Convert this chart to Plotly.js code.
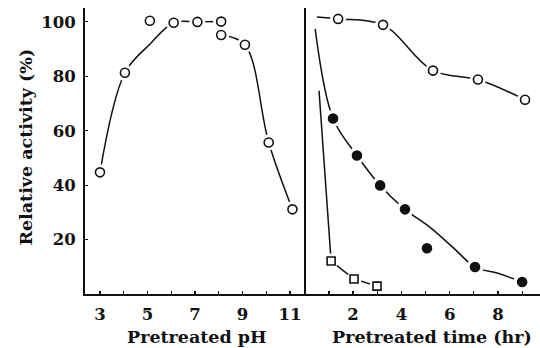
<!DOCTYPE html>
<html>
<head>
<meta charset="utf-8">
<script src="https://cdn.plot.ly/plotly-3.0.1.min.js"></script>
<style>html,body{margin:0;padding:0;background:#fff;}#chart{width:540px;height:348px;}</style>
</head>
<body>
<div id="chart"></div>
<script>
// ---- Left panel: pH stability (measured points) ----
const phValues   = [3.0, 4.05, 5.1, 6.1, 7.1, 8.1, 8.1, 9.1, 10.1, 11.1];
const phActivity = [44.7, 81.3, 100.4, 99.7, 100, 100.1, 95.2, 91.6, 55.7, 31.1];
// hand-drawn curves
const phRiseX = [3.0, 4.05, 5.1, 6.1, 7.1, 8.1];
const phRiseY = [44.7, 81.3, 91.8, 99.7, 100, 100.1];
const phFallX = [8.1, 9.1, 10.1, 11.1];
const phFallY = [95.2, 91.6, 55.7, 31.1];

// ---- Right panel: time course ----
const timeOpen = [1.38, 3.24, 5.31, 7.17, 9.12];
const actOpen  = [101.1, 98.9, 82.1, 78.8, 71.4];
const curveOpenX = [0.5, 1.38, 3.24, 5.31, 7.17, 9.12];
const curveOpenY = [101.8, 101.1, 98.9, 82.1, 78.8, 71.4];

const timeFilled = [1.17, 2.16, 3.12, 4.15, 5.06, 7.05, 9.0];
const actFilled  = [64.5, 50.9, 39.9, 31.1, 16.8, 9.9, 4.4];
const curveFilledX = [0.43, 1.17, 2.16, 3.12, 4.15, 5.2, 6.2, 7.05, 8.0, 9.0];
const curveFilledY = [97.4, 64.5, 50.9, 39.9, 31.1, 24.4, 16.6, 9.9, 7.6, 4.4];

const timeSquare = [1.09, 2.04, 2.99];
const actSquare  = [12.1, 5.5, 2.9];
const curveSquareX = [0.59, 1.09, 2.04, 2.99];
const curveSquareY = [74.7, 12.1, 5.5, 2.9];

const phTickVals = [3, 5, 7, 9, 11];
const timeTickVals = [2, 4, 6, 8];
const yTickVals = [20, 40, 60, 80, 100];

const FONT = 'DejaVu Serif';
const lineStyle = {color: '#111', width: 1.5, shape: 'spline', smoothing: 1};

function curve(x, y, xa, ya, shape) {
  const ln = Object.assign({}, lineStyle);
  if (shape) ln.shape = shape;
  return {x: x, y: y, xaxis: xa, yaxis: ya, mode: 'lines', line: ln, showlegend: false, hoverinfo: 'skip'};
}
function halo(x, y, xa, ya, sz) {
  return {x: x, y: y, xaxis: xa, yaxis: ya, mode: 'markers', showlegend: false, hoverinfo: 'skip',
    marker: {symbol: 'circle', size: sz, color: '#fff', line: {width: 0}}};
}
function pts(x, y, xa, ya, symbol, size, fill) {
  return {x: x, y: y, xaxis: xa, yaxis: ya, mode: 'markers', showlegend: false,
    marker: {symbol: symbol, size: size, color: fill, line: {color: '#111', width: 1.6}}};
}

const data = [
  curve(phRiseX, phRiseY, 'x', 'y'),
  curve(phFallX, phFallY, 'x', 'y'),
  curve(curveOpenX, curveOpenY, 'x2', 'y2'),
  curve(curveFilledX, curveFilledY, 'x2', 'y2'),
  curve(curveSquareX, curveSquareY, 'x2', 'y2', 'linear'),
  halo(phValues, phActivity, 'x', 'y', 16),
  halo(timeOpen, actOpen, 'x2', 'y2', 16),
  halo(timeFilled, actFilled, 'x2', 'y2', 17),
  halo(timeSquare, actSquare, 'x2', 'y2', 15),
  pts(phValues, phActivity, 'x', 'y', 'circle', 9, '#fff'),
  pts(timeOpen, actOpen, 'x2', 'y2', 'circle', 9, '#fff'),
  pts(timeFilled, actFilled, 'x2', 'y2', 'circle', 9, '#111'),
  pts(timeSquare, actSquare, 'x2', 'y2', 'square', 8, '#fff')
];

const tickFont = {family: FONT, size: 16.5, color: '#111', weight: 700};
const titleFont = {family: FONT, size: 17.5, color: '#111', weight: 700};

const layout = {
  width: 540, height: 348,
  margin: {l: 85, r: 0, t: 8, b: 54},
  paper_bgcolor: '#fff', plot_bgcolor: '#fff',
  showlegend: false,
  xaxis: {
    domain: [0, 0.4857], range: [2.37, 11.67], anchor: 'y',
    tickmode: 'array', tickvals: phTickVals, ticks: 'inside', ticklen: 3, tickwidth: 1.2, tickcolor: '#111',
    minor: {tickmode: 'linear', tick0: 0, dtick: 1, ticks: 'inside', ticklen: 3, tickwidth: 1.2, tickcolor: '#111'},
    showline: true, linecolor: '#111', linewidth: 2, showgrid: false, zeroline: false,
    tickfont: tickFont, ticklabelstandoff: 4
  },
  xaxis2: {
    domain: [0.4857, 1], range: [0.05, 9.74], anchor: 'y2',
    tickmode: 'array', tickvals: timeTickVals, ticks: 'inside', ticklen: 3, tickwidth: 1.2, tickcolor: '#111',
    minor: {tickmode: 'linear', tick0: 0, dtick: 1, ticks: 'inside', ticklen: 3, tickwidth: 1.2, tickcolor: '#111'},
    showline: true, linecolor: '#111', linewidth: 2, showgrid: false, zeroline: false,
    tickfont: tickFont, ticklabelstandoff: 4
  },
  yaxis: {
    domain: [0, 1], range: [0, 105.1], anchor: 'x',
    tickmode: 'array', tickvals: yTickVals, ticks: 'inside', ticklen: 3, tickwidth: 1.2, tickcolor: '#111',
    showline: true, linecolor: '#111', linewidth: 2, showgrid: false, zeroline: false,
    tickfont: tickFont, ticklabelstandoff: 4
  },
  yaxis2: {
    domain: [0, 1], matches: 'y', anchor: 'x2',
    showticklabels: false, ticks: '',
    showline: true, linecolor: '#111', linewidth: 2, showgrid: false, zeroline: false
  },
  annotations: [
    {text: 'Relative activity (%)', xref: 'paper', yref: 'paper', x: -0.129, y: 0.513,
     xanchor: 'center', yanchor: 'middle', textangle: -90, showarrow: false, font: titleFont},
    {text: 'Pretreated pH', xref: 'paper', yref: 'paper', x: 0.246, y: -0.15,
     xanchor: 'center', yanchor: 'middle', showarrow: false, font: titleFont},
    {text: 'Pretreated time (hr)', xref: 'paper', yref: 'paper', x: 0.763, y: -0.15,
     xanchor: 'center', yanchor: 'middle', showarrow: false, font: titleFont}
  ]
};

Plotly.newPlot('chart', data, layout, {staticPlot: true, displayModeBar: false});
</script>
</body>
</html>
